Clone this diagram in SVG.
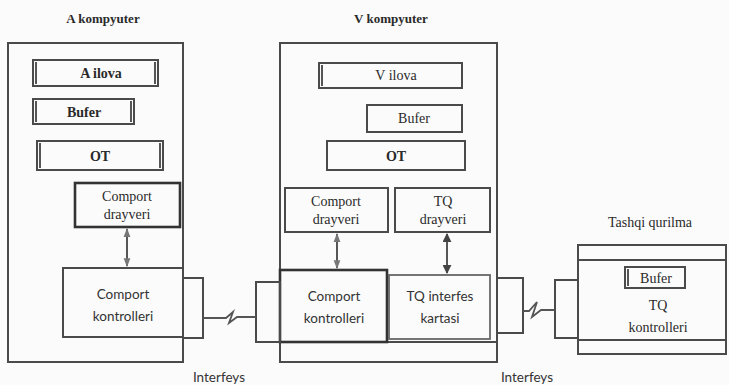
<svg xmlns="http://www.w3.org/2000/svg" width="729" height="385" viewBox="0 0 729 385">
<defs>
<style>
.bg{fill:#fbfbfb}
.box{fill:none;stroke:#4a4a4a;stroke-width:2}
.dk{fill:none;stroke:#333;stroke-width:2.6}
.lt{fill:none;stroke:#666;stroke-width:1.8}
.bar{stroke:#555;stroke-width:2}
.t{font-family:"Liberation Serif","Times New Roman",serif;font-size:14px;fill:#2a2a2a;text-anchor:middle}
.b{font-weight:bold}
.s{font-family:Lato,"Open Sans",sans-serif;font-size:13.5px;fill:#333;text-anchor:middle}
.ti{font-family:"Liberation Serif","Times New Roman",serif;font-size:13px;font-weight:bold;fill:#2a2a2a;text-anchor:middle}
.con{fill:none;stroke:#555;stroke-width:1.8}
.arr{fill:none;stroke:#444;stroke-width:1.8}
</style>
<marker id="sm" viewBox="0 0 8 8" refX="7" refY="4" markerWidth="5" markerHeight="5" orient="auto-start-reverse">
<path d="M0,1 L8,4 L0,7 z" fill="#777"/>
</marker>
<marker id="big" viewBox="0 0 10 10" refX="9" refY="5" markerWidth="5" markerHeight="5" orient="auto-start-reverse">
<path d="M0,0 L10,5 L0,10 z" fill="#444"/>
</marker>
</defs>
<rect class="bg" x="0" y="0" width="729" height="385"/>

<!-- A kompyuter -->
<g id="a-kompyuter">
<text class="ti" x="103" y="23">A kompyuter</text>
<rect class="box" x="8" y="43" width="175" height="319"/>
</g>
<g id="a-ilova">
<rect class="box" x="33" y="60" width="125" height="26"/>
<line class="bar" x1="36" y1="62" x2="36" y2="84"/>
<line class="bar" x1="155" y1="62" x2="155" y2="84"/>
<text class="t b" x="101" y="78">A ilova</text>
</g>
<g id="a-bufer">
<rect class="box" x="33" y="99" width="101" height="25"/>
<line class="bar" x1="36" y1="101" x2="36" y2="122"/>
<line class="bar" x1="131" y1="101" x2="131" y2="122"/>
<text class="t b" x="84" y="117">Bufer</text>
</g>
<g id="a-ot">
<rect class="box" x="37" y="141" width="126" height="29"/>
<line class="bar" x1="40" y1="143" x2="40" y2="168"/>
<line class="bar" x1="160" y1="143" x2="160" y2="168"/>
<text class="t b" x="100" y="161">OT</text>
</g>
<g id="a-comport-drayveri">
<rect class="dk" x="75" y="183" width="105" height="44"/>
<text class="t" x="127" y="201">Comport</text>
<text class="t" x="127" y="219">drayveri</text>
</g>
<g id="a-comport-kontrolleri">
<rect class="box" x="63" y="268" width="120" height="69"/>
<text class="s" x="123" y="299">Comport</text>
<text class="s" x="123" y="321">kontrolleri</text>
</g>
<g id="a-port">
<rect class="box" x="183" y="278" width="20" height="60"/>
</g>

<!-- V kompyuter -->
<g id="v-kompyuter">
<text class="ti" x="391" y="23">V kompyuter</text>
<rect class="box" x="280" y="43" width="217" height="319"/>
<line class="box" x1="280" y1="342" x2="497" y2="342"/>
</g>
<g id="v-ilova">
<rect class="box" x="319" y="63" width="143" height="25"/>
<line class="bar" x1="322" y1="65" x2="322" y2="86"/>
<text class="t" x="396" y="80">V ilova</text>
</g>
<g id="v-bufer">
<rect class="box" x="367" y="105" width="95" height="27"/>
<text class="t" x="414" y="123" fill="#555">Bufer</text>
</g>
<g id="v-ot">
<rect class="box" x="327" y="141" width="138" height="29"/>
<text class="t b" x="396" y="161">OT</text>
</g>
<g id="v-comport-drayveri">
<rect class="box" x="285" y="188" width="103" height="44"/>
<text class="t" x="336" y="206">Comport</text>
<text class="t" x="336" y="224">drayveri</text>
</g>
<g id="v-tq-drayveri">
<rect class="box" x="395" y="188" width="95" height="44"/>
<text class="t" x="443" y="206">TQ</text>
<text class="t" x="443" y="224">drayveri</text>
</g>
<g id="v-comport-kontrolleri">
<rect class="dk" x="280" y="270" width="107" height="72"/>
<text class="s" x="334" y="301">Comport</text>
<text class="s" x="334" y="323">kontrolleri</text>
</g>
<g id="v-tq-interfes-kartasi">
<rect class="lt" x="389" y="275" width="101" height="64"/>
<text class="s" x="440" y="301">TQ interfes</text>
<text class="s" x="440" y="323">kartasi</text>
</g>
<g id="v-port-left">
<rect class="box" x="256" y="282" width="24" height="60"/>
</g>
<g id="v-port-right">
<rect class="box" x="497" y="278" width="26" height="55"/>
</g>

<!-- Tashqi qurilma -->
<g id="tashqi-qurilma">
<text class="t" x="650" y="227" font-size="13">Tashqi qurilma</text>
<rect class="box" x="578" y="245" width="148" height="109"/>
<line class="box" x1="578" y1="260" x2="726" y2="260"/>
<line class="box" x1="578" y1="340" x2="726" y2="340"/>
</g>
<g id="t-bufer">
<rect class="box" x="625" y="267" width="60" height="21"/>
<line class="bar" x1="628" y1="269" x2="628" y2="286"/>
<text class="t" x="656" y="283">Bufer</text>
</g>
<g id="t-kontrolleri">
<text class="t" x="658" y="310">TQ</text>
<text class="t" x="658" y="332">kontrolleri</text>
</g>
<g id="t-port">
<rect class="box" x="555" y="280" width="23" height="58"/>
</g>

<!-- labels -->
<text class="s" x="219" y="382" font-size="13">Interfeys</text>
<text class="s" x="527" y="382" font-size="13">Interfeys</text>

<!-- connectors -->
<g id="connectors">
<line class="arr" x1="127" y1="229" x2="127" y2="266" marker-start="url(#sm)" marker-end="url(#sm)"/>
<line class="arr" x1="337" y1="234" x2="337" y2="268" marker-start="url(#sm)" marker-end="url(#sm)"/>
<line class="arr" x1="447" y1="234" x2="447" y2="273" marker-start="url(#big)" marker-end="url(#big)"/>
<path class="con" d="M203,318 H226 L233,312 L229,323 L237,317 H256"/>
<path class="con" d="M523,311 H529 L537,302 L532,317 L541,310 H555"/>
</g>
</svg>
